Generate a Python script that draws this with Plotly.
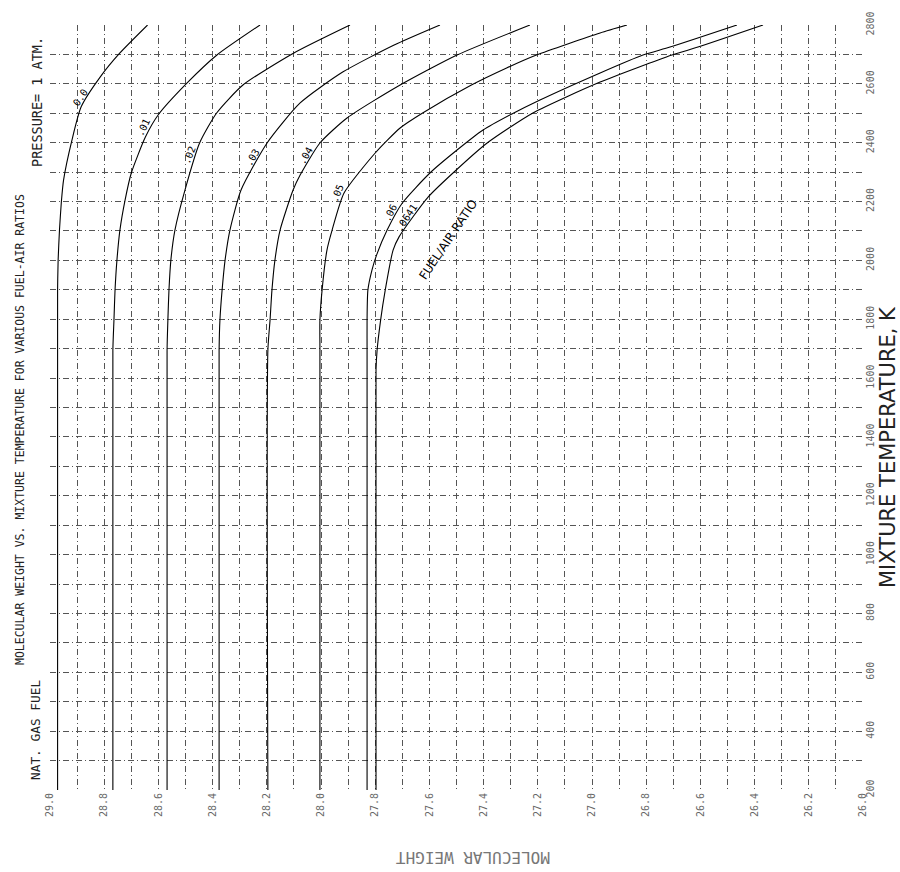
import numpy as np
import plotly.graph_objects as go

# ---------------- data ----------------
ratio_labels = ["0.0", ".01", ".02", ".03", ".04", ".05", ".06", ".0641"]

temp_00 = [200, 1900, 2001, 2103, 2200, 2273, 2409, 2522, 2623, 2705, 2800]
mw_00 = [28.972, 28.972, 28.970, 28.965, 28.958, 28.950, 28.919, 28.885, 28.815, 28.742, 28.640]

temp_01 = [200, 1695, 1797, 1899, 2001, 2103, 2205, 2297, 2419, 2494, 2603, 2698, 2800]
mw_01 = [28.768, 28.768, 28.764, 28.760, 28.753, 28.742, 28.723, 28.700, 28.648, 28.601, 28.494, 28.384, 28.225]

temp_02 = [200, 1695, 1797, 1899, 2001, 2103, 2239, 2399, 2501, 2596, 2705, 2800]
mw_02 = [28.568, 28.568, 28.565, 28.561, 28.554, 28.539, 28.502, 28.448, 28.385, 28.288, 28.100, 27.893]

temp_03 = [200, 1695, 1797, 1899, 2001, 2103, 2239, 2399, 2535, 2640, 2732, 2800]
mw_03 = [28.376, 28.376, 28.373, 28.365, 28.354, 28.336, 28.295, 28.199, 28.077, 27.920, 27.730, 27.561]

temp_04 = [200, 1695, 1797, 1899, 2001, 2103, 2239, 2290, 2399, 2484, 2596, 2698, 2800]
mw_04 = [28.196, 28.196, 28.188, 28.181, 28.170, 28.151, 28.103, 28.077, 28.004, 27.904, 27.708, 27.498, 27.229]

temp_05 = [200, 1695, 1797, 1899, 2035, 2103, 2229, 2365, 2450, 2501, 2596, 2654, 2698, 2773, 2800]
mw_05 = [28.004, 28.004, 28.004, 27.996, 27.978, 27.959, 27.915, 27.800, 27.708, 27.625, 27.445, 27.315, 27.205, 26.970, 26.871]

temp_06 = [200, 1695, 1797, 1899, 1967, 2018, 2103, 2195, 2297, 2375, 2443, 2494, 2545, 2637, 2698, 2725, 2800]
mw_06 = [27.830, 27.830, 27.830, 27.827, 27.812, 27.795, 27.756, 27.700, 27.598, 27.498, 27.402, 27.303, 27.192, 26.970, 26.812, 26.712, 26.465]

temp_064 = [200, 1627, 1695, 1797, 1899, 2035, 2080, 2215, 2297, 2399, 2501, 2606, 2698, 2725, 2800]
mw_064 = [27.797, 27.797, 27.793, 27.780, 27.763, 27.734, 27.712, 27.605, 27.513, 27.387, 27.218, 26.970, 26.705, 26.609, 26.369]

curve_temps = [temp_00, temp_01, temp_02, temp_03, temp_04, temp_05, temp_06, temp_064]
curve_mws = [mw_00, mw_01, mw_02, mw_03, mw_04, mw_05, mw_06, mw_064]

# label placement along each curve (temperature where label sits, text angle)
label_temps = [2555, 2450, 2358, 2351, 2358, 2229, 2161, 2147]
label_angles = [-56, -64, -68, -60, -60, -68, -64, -57]

# ---------------- figure ----------------
W, H = 900, 872
ML, MR, MT, MB = 50, 37, 25, 82
PW, PH = W - ML - MR, H - MT - MB

fig = go.Figure()
for lab, t, m in zip(ratio_labels, curve_temps, curve_mws):
    fig.add_trace(go.Scatter(
        x=m, y=t, mode="lines", name=lab,
        line=dict(color="black", width=1.1, shape="spline", smoothing=0.6),
        showlegend=False, hoverinfo="skip"))

mono = "DejaVu Sans Mono"
annotations = []
for lab, t, m, lt, ang in zip(ratio_labels, curve_temps, curve_mws, label_temps, label_angles):
    mx = float(np.interp(lt, t, m))
    annotations.append(dict(x=mx, y=lt, xref="x", yref="y", text=lab, showarrow=False,
                            textangle=ang, xshift=-7, font=dict(family=mono, size=10, color="black")))

annotations.append(dict(x=27.531, y=2069, xref="x", yref="y", text="FUEL/AIR RATIO",
                        showarrow=False, textangle=-56,
                        font=dict(family="DejaVu Sans", size=12, color="black")))

page_texts = [
    ("MOLECULAR WEIGHT VS. MIXTURE TEMPERATURE FOR VARIOUS FUEL-AIR RATIOS", 20, 430, -90, 11.5, mono, "#222"),
    ("NAT. GAS FUEL", 35, 730, -90, 12.8, mono, "#222"),
    ("PRESSURE= 1 ATM.", 37, 102, -90, 13.5, mono, "#222"),
    ("MIXTURE TEMPERATURE, K", 888, 447, -90, 21, "DejaVu Sans", "#222"),
    ("MOLECULAR WEIGHT", 473, 857, 180, 16, mono, "#777"),
]
for txt, px, py, ang, sz, fam, col in page_texts:
    annotations.append(dict(x=(px - ML) / PW, y=(H - MB - py) / PH, xref="paper", yref="paper",
                            xanchor="center", yanchor="middle", text=txt, showarrow=False,
                            textangle=ang, font=dict(family=fam, size=sz, color=col)))

grid_style = dict(showgrid=True, gridcolor="#555", gridwidth=1, griddash="6px,3px,1px,3px")

fig.update_layout(
    width=W, height=H,
    margin=dict(l=ML, r=MR, t=MT, b=MB),
    plot_bgcolor="white", paper_bgcolor="white",
    annotations=annotations,
    xaxis=dict(range=[29.0, 26.0], tick0=26.0, dtick=0.2, tickformat=".1f",
               minor=dict(dtick=0.1, **grid_style),
               zeroline=False, showline=False, ticks="",
               tickangle=-90, tickfont=dict(family=mono, size=10, color="#666"),
               **grid_style),
    yaxis=dict(range=[200, 2800], tick0=200, dtick=200, side="right",
               minor=dict(dtick=100, **grid_style),
               zeroline=False, showline=False, ticks="",
               tickangle=-90, tickfont=dict(family=mono, size=10, color="#666"),
               **grid_style),
)

fig.write_html("out.html", config={"displayModeBar": False},
               post_script="document.body.style.margin='0';document.body.style.overflow='hidden';")
